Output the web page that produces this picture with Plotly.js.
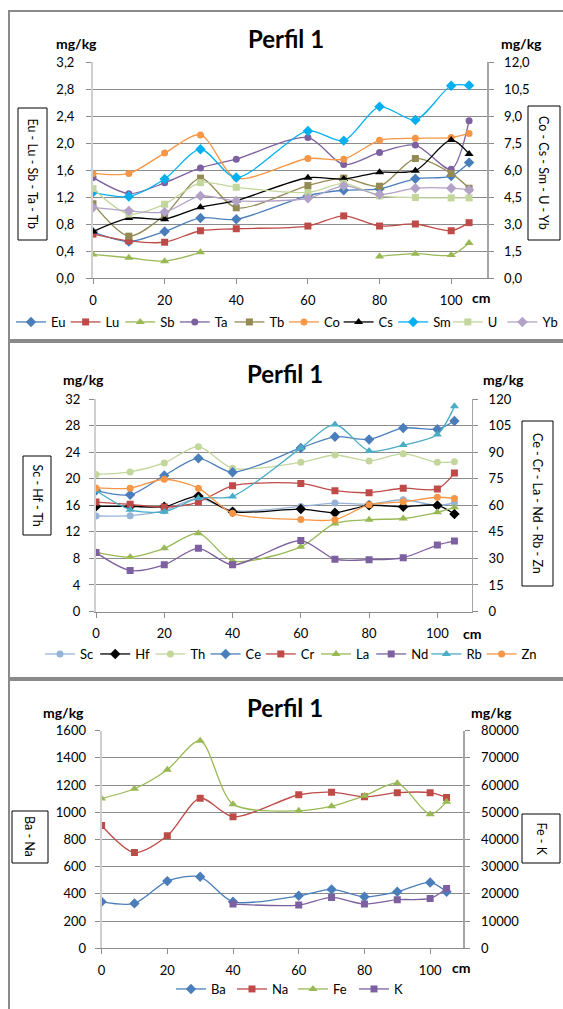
<!DOCTYPE html>
<html>
<head>
<meta charset="utf-8">
<script src="https://cdn.plot.ly/plotly-3.0.1.min.js"></script>
<style>
  html, body { margin:0; padding:0; background:#fff; width:563px; height:1009px; overflow:hidden; }
  .plot { position:absolute; left:0; width:563px; }
  .frame { position:absolute; left:8px; width:600px; border:2px solid #8a8a8a; box-sizing:border-box; pointer-events:none; }
</style>
</head>
<body>
<div class="frame" style="top:10px;height:331px;"></div>
<div class="frame" style="top:341px;height:338px;"></div>
<div class="frame" style="top:679px;height:400px;"></div>
<div id="p1" class="plot" style="top:0px;height:340px;"></div>
<div id="p2" class="plot" style="top:340px;height:340px;"></div>
<div id="p3" class="plot" style="top:680px;height:329px;"></div>
<script>
// ---------------- DATA ----------------
const depth = [0, 10, 20, 30, 40, 60, 70, 80, 90, 100, 105];
const xTicks = [0, 20, 40, 60, 80, 100];

// Panel 1 — left axis (mg/kg)
const eu = [0.68, 0.54, 0.69, 0.89, 0.87, 1.22, 1.30, 1.32, 1.47, 1.51, 1.71];
const lu = [0.65, 0.55, 0.53, 0.70, 0.73, 0.77, 0.92, 0.77, 0.80, 0.70, 0.82];
const sb = [0.35, 0.30, 0.25, 0.38, null, null, null, 0.32, 0.36, 0.34, 0.52];
const ta = [1.49, 1.25, 1.41, 1.63, 1.76, 2.08, 1.68, 1.86, 1.97, 1.61, 2.33];
const tb = [1.10, 0.62, 0.93, 1.48, 1.04, 1.37, 1.48, 1.36, 1.77, 1.55, 1.33];
// Panel 1 — right axis (mg/kg)
const co = [5.81, 5.81, 6.94, 7.95, 5.55, 6.64, 6.60, 7.65, 7.76, 7.80, 8.03];
const cs = [2.58, 3.33, 3.27, 3.93, 4.30, 5.57, 5.50, 5.87, 5.96, 7.67, 6.89];
const sm = [4.76, 4.53, 5.50, 7.15, 5.58, 8.17, 7.63, 9.52, 8.78, 10.68, 10.70];
const u  = [4.97, 3.55, 4.10, 5.30, 5.04, 4.75, 5.26, 4.56, 4.47, 4.45, 4.45];
const yb = [3.92, 3.73, 3.66, 4.56, 4.28, 4.43, 5.12, 4.64, 4.99, 4.99, 4.89];

// Panel 2 — left axis
const sc = [14.4, 14.45, 15.2, 17.1, 15.2, 15.85, 16.35, 16.2, 16.85, 16.0, 16.4];
const hf = [15.85, 15.85, 15.8, 17.4, 15.05, 15.45, 14.9, 16.0, 15.8, 16.0, 14.7];
const th = [20.65, 21.05, 22.4, 24.85, 21.6, 22.5, 23.6, 22.7, 23.8, 22.5, 22.6];
// Panel 2 — right axis
const ce = [68.4, 66.0, 76.9, 86.6, 78.75, 92.5, 98.8, 97.3, 103.8, 103.1, 107.7];
const cr = [61.9, 60.6, 59.1, 61.9, 71.1, 72.4, 68.3, 67.2, 69.7, 69.3, 78.3];
const la = [33.6, 30.8, 35.7, 44.3, 28.6, 36.6, 49.8, 51.9, 52.6, 56.1, 58.9];
const nd = [33.3, 23.2, 26.4, 35.7, 26.4, 40.1, 29.6, 29.3, 30.4, 37.6, 39.8];
const rb = [68.4, 57.6, 56.4, 64.1, 65.1, 92.4, 105.7, 90.8, 94.1, 100.1, 116.0];
const zn = [69.9, 69.75, 74.8, 69.75, 55.5, 52.0, 51.9, 60.4, 62.0, 64.6, 63.9];

// Panel 3 — left axis
const ba = [342, 330, 494, 526, 342, 386, 433, 379, 416, 484, 416];
const na = [903, 704, 827, 1104, 967, 1129, 1148, 1114, 1144, 1144, 1109];
// Panel 3 — right axis
const fe = [55100, 58650, 65650, 76300, 53000, 50550, 52250, 56050, 60700, 49300, 53850];
const k  = [null, null, null, null, 16270, 15900, 18710, 16270, 17860, 18350, 22020];

// ---------------- HELPERS ----------------
const W = 563;
const FONT = 'Lato, "Liberation Sans", sans-serif';
const C = {
  blue:'#4A7EBB', red:'#BE4B48', green:'#98B954', purple:'#7D60A0', olive:'#948A54',
  orange:'#F79646', black:'#000000', cyan:'#00B0F0', lgreen:'#C3D69B', lav:'#B3A2C7',
  lblue:'#95B3D7', teal:'#4BACC6'
};
const SYM = {d:['diamond',8], s:['square',7], t:['triangle-up',8], c:['circle',7]};

function tr(name, y, color, sym, axis) {
  return {
    x: depth, y: y, name: name, type: 'scatter', mode: 'lines+markers',
    yaxis: axis, connectgaps: false,
    line: {color: color, width: 1.3, shape: 'spline', smoothing: 0.8},
    marker: {color: color, symbol: SYM[sym][0], size: SYM[sym][1], line:{width:0}}
  };
}

function px(x) { return x / W; }

function buildLayout(cfg) {
  const H = cfg.H;
  const py = y => 1 - y / H;
  const ann = [];
  const shapes = [];
  ann.push({text:'mg/kg', x:px(cfg.unitL[0]), y:py(cfg.unitL[1]), xref:'paper', yref:'paper',
            showarrow:false, xanchor:'center', yanchor:'middle', font:{size:14, weight:'bold', color:'#000'}});
  ann.push({text:'mg/kg', x:px(cfg.unitR[0]), y:py(cfg.unitR[1]), xref:'paper', yref:'paper',
            showarrow:false, xanchor:'center', yanchor:'middle', font:{size:14, weight:'bold', color:'#000'}});
  ann.push({text:'cm', x:px(cfg.cm[0]), y:py(cfg.cm[1]), xref:'paper', yref:'paper',
            showarrow:false, xanchor:'center', yanchor:'middle', font:{size:14, weight:'bold', color:'#000'}});
  [cfg.boxL, cfg.boxR].forEach(b => {
    shapes.push({type:'rect', xref:'paper', yref:'paper', x0:px(b.x0), x1:px(b.x1), y0:py(b.y1), y1:py(b.y0),
                 line:{color:'#000', width:1}, fillcolor:'#fff', layer:'above'});
    ann.push({text:b.text, x:px((b.x0+b.x1)/2), y:py((b.y0+b.y1)/2), xref:'paper', yref:'paper',
              showarrow:false, textangle:90, xanchor:'center', yanchor:'middle', font:{size:12.5, color:'#000'}});
  });
  return {
    width: W, height: H,
    margin: {l:0, r:0, t:0, b:0, pad:0},
    paper_bgcolor: 'rgba(0,0,0,0)', plot_bgcolor: 'rgba(0,0,0,0)',
    separators: ',.',
    font: {family: FONT, size: 13, color: '#000'},
    title: {text: 'Perfil 1', x: px(cfg.title[0]), y: py(cfg.title[1]), xref:'container', yref:'container',
            xanchor:'center', yanchor:'middle', font:{size:24, weight:'bold', color:'#000'}},
    showlegend: true,
    legend: {orientation:'h', x: px(cfg.legX), xanchor:'left', y: py(cfg.legY), yanchor:'middle',
             entrywidth: cfg.entryW, entrywidthmode:'pixels', font:{size:13}, bgcolor:'rgba(0,0,0,0)',
             traceorder:'normal', itemclick:false},
    xaxis: {domain:[px(cfg.plot.x0), px(cfg.plot.x1)], range:[0,110], tickvals: xTicks,
            showgrid:false, zeroline:false, showline:true, linecolor:'#8c8c8c', linewidth:1,
            ticks:'outside', ticklen:5, tickcolor:'#8c8c8c', ticklabelstandoff: cfg.xStand, fixedrange:true},
    yaxis: {domain:[py(cfg.plot.y1), py(cfg.plot.y0)], range: cfg.yL.range, dtick: cfg.yL.dtick, tickformat: cfg.yL.fmt,
            showgrid:true, gridcolor:'#8c8c8c', gridwidth:1, zeroline:false, showline:true, linecolor:'#cfcfcf', linewidth:2,
            ticks:'outside', ticklen:5, tickcolor:'#8c8c8c', ticklabelstandoff: cfg.yL.stand, fixedrange:true},
    yaxis2: {overlaying:'y', side:'right', range: cfg.yR.range, dtick: cfg.yR.dtick, tickformat: cfg.yR.fmt,
             showgrid:false, zeroline:false, showline:true, linecolor:'#a6a6a6', linewidth:1.5,
             ticks:'outside', ticklen:5, tickcolor:'#8c8c8c', ticklabelstandoff: cfg.yR.stand, fixedrange:true},
    annotations: ann, shapes: shapes
  };
}

const config = {displayModeBar:false, staticPlot:true};

// ---------------- PANEL 1 ----------------
const traces1 = [
  tr('Eu', eu, C.blue, 'd', 'y'),
  tr('Lu', lu, C.red, 's', 'y'),
  tr('Sb', sb, C.green, 't', 'y'),
  tr('Ta', ta, C.purple, 'c', 'y'),
  tr('Tb', tb, C.olive, 's', 'y'),
  tr('Co', co, C.orange, 'c', 'y2'),
  tr('Cs', cs, C.black, 't', 'y2'),
  tr('Sm', sm, C.cyan, 'd', 'y2'),
  tr('U', u, C.lgreen, 's', 'y2'),
  tr('Yb', yb, C.lav, 'd', 'y2')
];
Plotly.newPlot('p1', traces1, buildLayout({
  H:340, plot:{x0:93, x1:487, y0:62, y1:278},
  title:[286, 40], unitL:[77, 43], unitR:[521, 43], cm:[481, 297],
  boxL:{x0:18, x1:47, y0:108, y1:240, text:'Eu - Lu - Sb - Ta - Tb'},
  boxR:{x0:528, x1:560, y0:106, y1:240, text:'Co - Cs - Sm - U - Yb'},
  legX:11, legY:322, entryW:9.6, xStand:5,
  yL:{range:[0,3.2], dtick:0.4, fmt:'.1f', stand:9},
  yR:{range:[0,12], dtick:1.5, fmt:'.1f', stand:8}
}), config);

// ---------------- PANEL 2 ----------------
const traces2 = [
  tr('Sc', sc, C.lblue, 'c', 'y'),
  tr('Hf', hf, C.black, 'd', 'y'),
  tr('Th', th, C.lgreen, 'c', 'y'),
  tr('Ce', ce, C.blue, 'd', 'y2'),
  tr('Cr', cr, C.red, 's', 'y2'),
  tr('La', la, C.green, 't', 'y2'),
  tr('Nd', nd, C.purple, 's', 'y2'),
  tr('Rb', rb, C.teal, 't', 'y2'),
  tr('Zn', zn, C.orange, 'c', 'y2')
];
Plotly.newPlot('p2', traces2, buildLayout({
  H:340, plot:{x0:96, x1:471.5, y0:59.3, y1:271.5},
  title:[285, 35], unitL:[83, 39], unitR:[503, 39], cm:[472, 293],
  boxL:{x0:23, x1:51, y0:116, y1:195, text:'Sc - Hf - Th'},
  boxR:{x0:522, x1:553, y0:81, y1:246, text:'Ce - Cr - La - Nd - Rb - Zn'},
  legX:40, legY:314, entryW:10.2, xStand:5,
  yL:{range:[0,32], dtick:4, fmt:'d', stand:6},
  yR:{range:[0,120], dtick:15, fmt:'d', stand:8}
}), config);

// ---------------- PANEL 3 ----------------
const traces3 = [
  tr('Ba', ba, C.blue, 'd', 'y'),
  tr('Na', na, C.red, 's', 'y'),
  tr('Fe', fe, C.green, 't', 'y2'),
  tr('K', k, C.purple, 's', 'y2')
];
Plotly.newPlot('p3', traces3, buildLayout({
  H:329, plot:{x0:101.6, x1:463, y0:50.7, y1:268.3},
  title:[285, 29], unitL:[63, 32], unitR:[491, 32], cm:[461, 287],
  boxL:{x0:12, x1:48, y0:131, y1:183, text:'Ba - Na'},
  boxR:{x0:522, x1:560, y0:134, y1:183, text:'Fe - K'},
  legX:171, legY:309, entryW:16, xStand:5,
  yL:{range:[0,1600], dtick:200, fmt:'d', stand:6},
  yR:{range:[0,80000], dtick:10000, fmt:'d', stand:9}
}), config);
</script>
</body>
</html>
